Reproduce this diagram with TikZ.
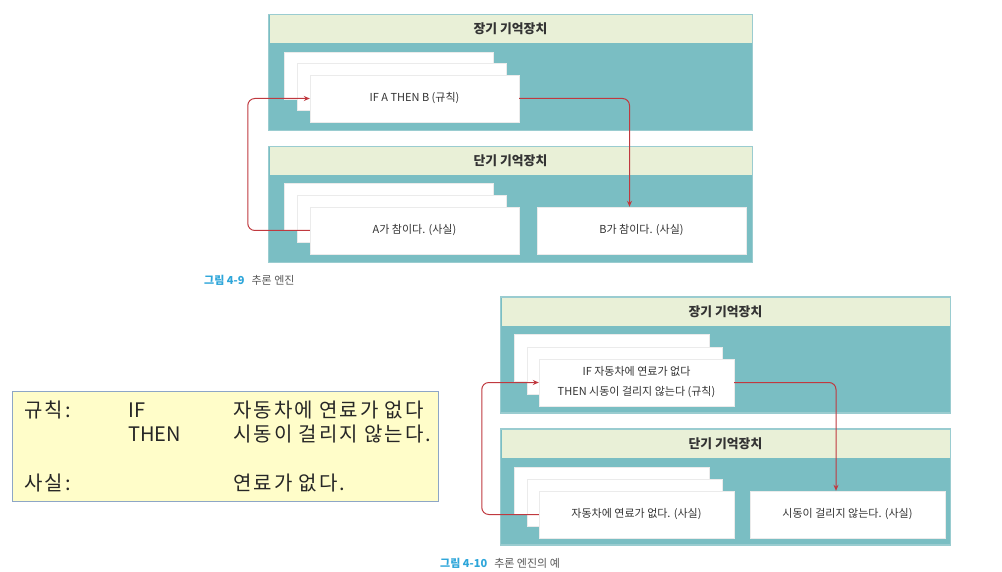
\documentclass[tikz,border=0pt]{standalone}
\usepackage{fontspec}
\setmainfont{Noto Sans CJK KR}
\newfontfamily\notefont[LetterSpace=10]{Noto Sans CJK KR}
\usepackage{xcolor}
\usetikzlibrary{arrows.meta}
\definecolor{memteal}{HTML}{7ABEC3}
\definecolor{memedge}{HTML}{9ACCD0}
\definecolor{memhead}{HTML}{E9F0D7}
\definecolor{flowred}{HTML}{C0393F}
\definecolor{capblue}{HTML}{2EA6DA}
\definecolor{notefill}{HTML}{FFFDC9}
\definecolor{noteedge}{HTML}{8DA6C6}
\definecolor{inktext}{HTML}{333333}

\begin{document}
\begin{tikzpicture}[x=1pt,y=-1pt,
  membox/.style={draw=memedge, line width=1.2pt, fill=memteal, minimum height=116pt, inner sep=0pt},
  memtitle/.style={fill=memhead, minimum height=28pt, inner sep=0pt, anchor=north, text=inktext, font=\fontsize{12.8}{15}\selectfont\bfseries},
  card/.style={draw=black!8, fill=white, minimum height=47pt, inner sep=0pt, align=center, text=inktext, font=\fontsize{11}{20}\selectfont},
  flow/.style={draw=flowred, line width=1pt, rounded corners=7pt, -{Stealth[length=6pt,width=5pt]}},
  notetext/.style={anchor=west, inner sep=0pt, text=black!85, font=\notefont\fontsize{20}{24}\selectfont},
  notekey/.style={notetext, font=\fontsize{20}{24}\selectfont},
  caption/.style={anchor=west, inner sep=0pt, text=black!65, font=\fontsize{11}{13}\selectfont}]
\useasboundingbox[fill=white] (0,0) rectangle (1002,572);

\node[membox, minimum width=484pt] (ltm9) at (510.5,72.5) {};
\node[memtitle, minimum width=482pt] (ltm9t) at ([yshift=-1pt]ltm9.north) {장기 기억장치};
\node[membox, minimum width=484pt] (stm9) at (510.5,204.5) {};
\node[memtitle, minimum width=482pt] (stm9t) at ([yshift=-1pt]stm9.north) {단기 기억장치};
\node[card, minimum width=209pt] (r9c) at (388.5,75.5) {};
\node[card, minimum width=209pt] (r9b) at (402,86.5) {};
\node[card, minimum width=209pt] (r9a) at (414.5,98.5) {IF A THEN B (규칙)};
\node[card, minimum width=209pt] (f9c) at (388.5,206.5) {};
\node[card, minimum width=209pt] (f9b0) at (402,218.5) {};
\node[card, minimum width=209pt] (f9a) at (414.5,230.5) {A가 참이다. (사실)};
\node[card, minimum width=209pt] (f9b) at (641.5,230.5) {B가 참이다. (사실)};
\draw[flow] (f9a.west) -- ++(-62,0) |- (r9a.west);
\draw[flow] (r9a.east) -| ([xshift=-12pt]f9b.north);
\node[caption] (cap9) at (204,280) {{\color{capblue}\bfseries 그림 4-9}\hspace{7pt}추론 엔진};

\node[draw=noteedge, line width=1pt, fill=notefill, minimum width=426pt, minimum height=110pt] (note) at (225,446) {};
\node[notetext] (nrule) at (24,410) {규칙:};
\node[notekey] (nif) at (128,410) {IF};
\node[notetext] (nifx) at (233,410) {자동차에 연료가 없다};
\node[notekey] (nthen) at (128,434) {THEN};
\node[notetext] (nthenx) at (233,434) {시동이 걸리지 않는다.};
\node[notetext] (nfact) at (24,483) {사실:};
\node[notetext] (nfactx) at (233,483) {연료가 없다.};

\node[membox, minimum width=450pt] (ltm10) at (725.5,355) {};
\node[memtitle, minimum width=448pt] (ltm10t) at ([yshift=-1pt]ltm10.north) {장기 기억장치};
\node[membox, minimum width=450pt] (stm10) at (725.5,487) {};
\node[memtitle, minimum width=448pt] (stm10t) at ([yshift=-1pt]stm10.north) {단기 기억장치};
\node[card, minimum width=195pt] (r10c) at (612,357.5) {};
\node[card, minimum width=195pt] (r10b) at (624.5,370.5) {};
\node[card, minimum width=195pt] (r10a) at (636.5,382.5) {IF 자동차에 연료가 없다\\THEN 시동이 걸리지 않는다 (규칙)};
\node[card, minimum width=195pt] (f10c) at (612,490.5) {};
\node[card, minimum width=195pt] (f10b0) at (624.5,502.5) {};
\node[card, minimum width=195pt] (f10a) at (636.5,514.5) {자동차에 연료가 없다. (사실)};
\node[card, minimum width=195pt] (f10b) at (847.5,514.5) {시동이 걸리지 않는다. (사실)};
\draw[flow] (f10a.west) -- ++(-57,0) |- (r10a.west);
\draw[flow] (r10a.east) -| ([xshift=-11.5pt]f10b.north);
\node[caption] (cap10) at (440,563) {{\color{capblue}\bfseries 그림 4-10}\hspace{7pt}추론 엔진의 예};
\end{tikzpicture}
\end{document}
